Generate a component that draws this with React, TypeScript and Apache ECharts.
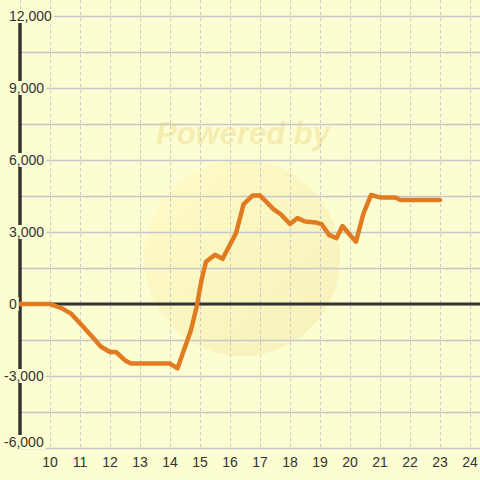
import React, { useEffect, useRef } from "react";
import * as echarts from "echarts";

const hours = [
  9.0, 10.0, 10.4, 10.7, 11.0, 11.4, 11.7, 12.0, 12.2, 12.5, 12.7, 13.0, 13.5, 14.0,
  14.25, 14.4, 14.7, 14.9, 15.05, 15.2, 15.5, 15.75, 16.2, 16.45, 16.75, 17.0,
  17.45, 17.7, 18.0, 18.25, 18.5, 18.85, 19.05, 19.3, 19.55, 19.75, 20.05, 20.2,
  20.45, 20.7, 21.0, 21.5, 21.7, 23.0,
];
const values = [
  0, 0, -180, -400, -800, -1350, -1780, -2000, -2000, -2350, -2480, -2480, -2480, -2480,
  -2680, -2150, -1080, -50, 1000, 1760, 2050, 1880, 2950, 4150, 4520, 4520,
  3950, 3730, 3330, 3580, 3440, 3400, 3330, 2880, 2740, 3250, 2800, 2600,
  3780, 4540, 4440, 4440, 4330, 4330,
];
const xTicks = [10, 11, 12, 13, 14, 15, 16, 17, 18, 19, 20, 21, 22, 23, 24];
const yLabelValues = [-6000, -3000, 0, 3000, 6000, 9000, 12000];

const X_MIN = 9;
const X_MAX = 24.333;
const Y_MIN = -6000;
const Y_MAX = 12667;
const BG = "#fdfdd2";
const TEXT = "#333333";

function fmt(v: number): string {
  const s = Math.abs(v).toString().replace(/\B(?=(\d{3})+(?!\d))/g, ",");
  return (v < 0 ? "-" : "") + s;
}

export default function App() {
  const ref = useRef<HTMLDivElement>(null);
  useEffect(() => {
    if (!ref.current) return;
    const chart = echarts.init(ref.current, undefined, { renderer: "svg" });
    const labelBase = {
      color: TEXT,
      fontSize: 14,
      fontFamily: "Liberation Sans, Arial, sans-serif",
      align: "left" as const,
      backgroundColor: BG,
      padding: [0, 2],
    };
    const yCommon = {
      type: "value" as const,
      position: "left" as const,
      offset: 0,
      min: Y_MIN,
      max: Y_MAX,
      interval: 1500,
      axisLine: { show: false },
      axisTick: { show: false },
      splitLine: { show: false },
    };
    chart.setOption({
      animation: false,
      backgroundColor: BG,
      grid: {
        left: 20,
        right: 0,
        top: 0,
        bottom: 32,
        containLabel: false,
        outerBoundsMode: "none",
      },
      graphic: [
        {
          type: "circle",
          z: -10,
          silent: true,
          shape: { cx: 242, cy: 258, r: 98 },
          style: {
            fill: new echarts.graphic.LinearGradient(0, 0, 1, 1, [
              { offset: 0, color: "rgba(255,250,190,0.55)" },
              { offset: 1, color: "rgba(240,228,160,0.45)" },
            ]),
          },
        },
        {
          type: "text",
          z: -10,
          silent: true,
          x: 243,
          y: 133,
          style: {
            text: "Powered by",
            fill: "rgba(238,222,140,0.5)",
            font: "italic bold 31px Liberation Sans, Arial, sans-serif",
            align: "center",
            verticalAlign: "middle",
          },
        },
      ],
      xAxis: {
        type: "value",
        min: X_MIN,
        max: X_MAX,
        interval: 1,
        axisLine: { show: false, onZero: false },
        axisTick: { show: false },
        splitLine: {
          show: true,
          showMaxLine: false,
          lineStyle: { color: "#c8c8c8", width: 1, type: [3, 3] },
        },
        axisLabel: {
          color: TEXT,
          fontSize: 14,
          fontFamily: "Liberation Sans, Arial, sans-serif",
          margin: 7,
          showMaxLabel: false,
          formatter: (v: number) => (xTicks.indexOf(v) >= 0 ? String(v) : ""),
        },
      },
      yAxis: [
        {
          ...yCommon,
          splitLine: {
            show: true,
            showMaxLine: false,
            lineStyle: { color: "#c6c6cc", width: 1.3 },
          },
          axisLabel: { show: false },
        },
        {
          ...yCommon,
          z: 10,
          axisLabel: {
            ...labelBase,
            margin: 13,
            formatter: (v: number) =>
              yLabelValues.indexOf(v) >= 0 && v >= 0 ? fmt(v) : "",
          },
        },
        {
          ...yCommon,
          z: 10,
          axisLabel: {
            ...labelBase,
            margin: 18,
            formatter: (v: number) =>
              yLabelValues.indexOf(v) >= 0 && v < 0 && v > Y_MIN ? fmt(v) : "",
          },
        },
        {
          ...yCommon,
          z: 10,
          axisLabel: {
            color: TEXT,
            fontSize: 14,
            fontFamily: "Liberation Sans, Arial, sans-serif",
            align: "left" as const,
            margin: 18,
            padding: [0, 0, 12, 0],
            formatter: (v: number) => (v === Y_MIN ? "{b|" + fmt(v) + "}" : ""),
            rich: {
              b: {
                color: TEXT,
                fontSize: 14,
                fontFamily: "Liberation Sans, Arial, sans-serif",
                backgroundColor: BG,
                padding: [0, 2],
              },
            },
          },
        },
      ],
      series: [
        {
          type: "line",
          yAxisIndex: 0,
          z: 1,
          silent: true,
          symbol: "none",
          data: [
            [X_MIN, Y_MIN],
            [X_MIN, 12000],
          ],
          lineStyle: { color: TEXT, width: 3.5 },
        },
        {
          type: "line",
          yAxisIndex: 0,
          z: 1,
          silent: true,
          symbol: "none",
          data: [
            [X_MIN, 0],
            [X_MAX, 0],
          ],
          lineStyle: { color: TEXT, width: 3 },
        },
        {
          type: "line",
          yAxisIndex: 0,
          z: 3,
          symbol: "none",
          data: hours.map((h, i) => [h, values[i]]),
          lineStyle: { color: "#e07b22", width: 4.5, join: "round", cap: "round" },
        },
      ],
    });
    return () => chart.dispose();
  }, []);
  return (
    <div
      ref={ref}
      style={{ position: "fixed", left: 0, top: 0, width: 480, height: 480 }}
    />
  );
}
